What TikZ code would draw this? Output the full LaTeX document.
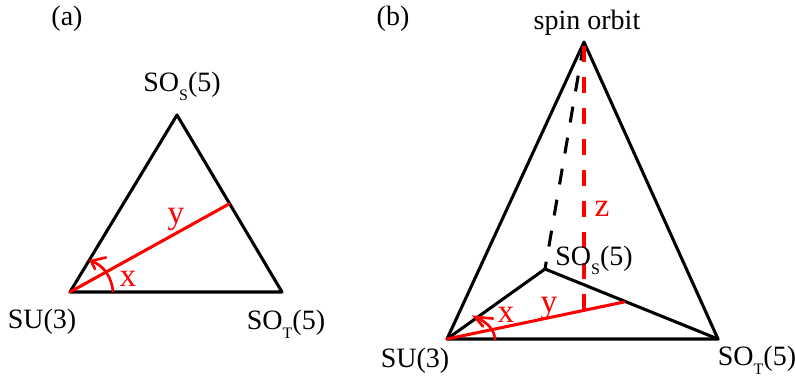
\documentclass[tikz,border=0pt]{standalone}
\usepackage{fontspec}
\setmainfont{Liberation Serif}
\usetikzlibrary{arrows.meta}
\newcommand{\subl}[1]{\raisebox{-0.34em}{\fontsize{12}{12}\selectfont #1}}
\tikzset{
  edge/.style={line width=2.3pt, line cap=round, line join=round, black},
  redl/.style={line width=2.3pt, red, line cap=round},
  reddash/.style={line width=3.2pt, red, dash pattern=on 12pt off 11.25pt, dash phase=20.25pt},
  blackdash/.style={line width=2.3pt, black, dash pattern=on 12pt off 11.6pt, dash phase=21.6pt},
  arcline/.style={line width=2pt, red},
  barbs/.style={line width=2pt, red, line cap=round, miter limit=10},
  lbl/.style={inner sep=0pt, font=\fontsize{21}{23}\selectfont, text=black},
  rlbl/.style={inner sep=0pt, font=\fontsize{25}{27}\selectfont, text=red}
}
\begin{document}
\begin{tikzpicture}[x=0.75pt,y=-0.75pt]
\useasboundingbox (0,0) rectangle (795,378);
% panel a
\coordinate (a1) at (70,292);
\coordinate (a2) at (177,115);
\coordinate (a3) at (282,292);
\coordinate (ay) at (229,204);
\coordinate (aarcs) at (113,292);
\coordinate (aarce) at (91,261);
\coordinate (ab1) at (106,257.5);
\coordinate (ab2) at (95,269);
\draw[edge] (a1) -- (a2) -- (a3) -- cycle;
\draw[redl] (a1) -- (ay);
\draw[arcline] (aarcs) .. controls (112,278) and (104,265) .. (aarce);
\draw[barbs] (ab1) -- (aarce) -- (ab2);
\node[lbl,anchor=base] (la) at (67,26) {(a)};
\node[lbl,anchor=base] (laS) at (182,91) {SO\subl{S}(5)};
\node[lbl,anchor=base] (laU) at (42,328) {SU(3)};
\node[lbl,anchor=base] (laT) at (286,329) {SO\subl{T}(5)};
\node[rlbl,anchor=base] (lax) at (128,286) {x};
\node[rlbl,anchor=base] (lay) at (176,223) {y};
% panel b
\coordinate (b1) at (447,339);
\coordinate (b2) at (584,42);
\coordinate (b3) at (718,339);
\coordinate (b4) at (545,269);
\coordinate (bz) at (584,310);
\coordinate (by) at (624,302);
\coordinate (barcs) at (495,340);
\coordinate (barce) at (475,317);
\coordinate (bb1) at (493,318.5);
\coordinate (bb2) at (483,326.5);
\draw[edge] (b1) -- (b2) -- (b3) -- cycle;
\draw[blackdash] (b2) -- (b4);
\draw[edge] (b1) -- (b4) -- (b3);
\draw[reddash] (b2) -- (bz);
\draw[redl] (b1) -- (by);
\draw[arcline] (barcs) .. controls (495,331) and (488,322) .. (barce);
\draw[barbs] (bb1) -- (barce) -- (bb2);
\node[lbl,anchor=base] (lb) at (393,26) {(b)};
\node[lbl,anchor=base] (lbo) at (587,30) {spin orbit};
\node[lbl,anchor=base] (lbS) at (594,265) {SO\subl{S}(5)};
\node[lbl,anchor=base] (lbU) at (415,367) {SU(3)};
\node[lbl,anchor=base] (lbT) at (757,365) {SO\subl{T}(5)};
\node[rlbl,anchor=base] (lbx) at (506,322) {x};
\node[rlbl,anchor=base] (lby) at (549,312) {y};
\node[rlbl,anchor=base] (lbz) at (602,216) {z};
\end{tikzpicture}
\end{document}
